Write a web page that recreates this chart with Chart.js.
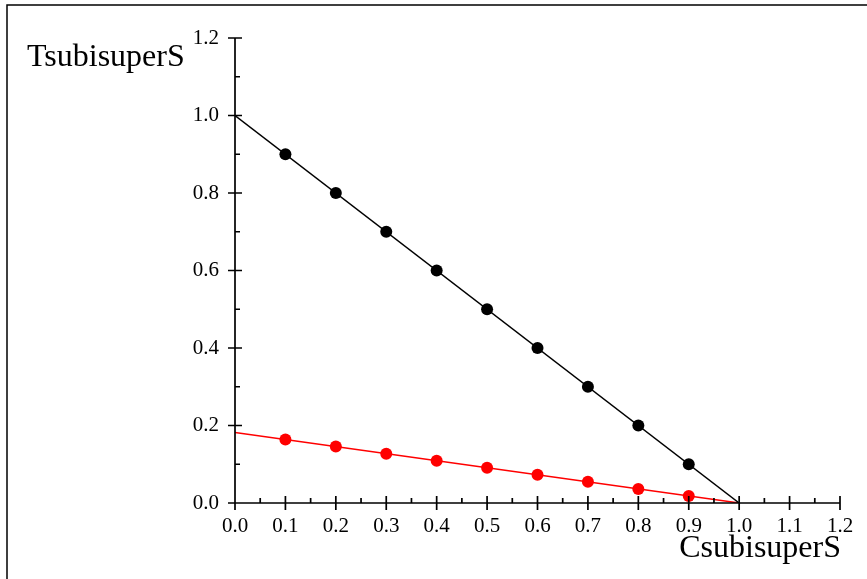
<!DOCTYPE html>
<html>
<head>
<meta charset="utf-8">
<script src="https://cdn.jsdelivr.net/npm/chart.js@4.4.0/dist/chart.umd.min.js"></script>
<style>
  html, body { margin: 0; padding: 0; background: #fff; }
  #wrap { width: 867px; height: 579px; position: relative; }
</style>
</head>
<body>
<div id="wrap"><canvas id="chart"></canvas></div>
<script>
// values
const xPoints = [0.1, 0.2, 0.3, 0.4, 0.5, 0.6, 0.7, 0.8, 0.9];
const blackPoints = [0.9, 0.8, 0.7, 0.6, 0.5, 0.4, 0.3, 0.2, 0.1];
const redPoints = [0.164, 0.146, 0.127, 0.109, 0.091, 0.073, 0.055, 0.036, 0.018];
const blackLineX = [0, 1.0];
const blackLineY = [1.0, 0];
const redLineX = [0, 1.0];
const redLineY = [0.182, 0];
const xTicks = [0, 0.1, 0.2, 0.3, 0.4, 0.5, 0.6, 0.7, 0.8, 0.9, 1.0, 1.1, 1.2];
const yTicks = [0, 0.2, 0.4, 0.6, 0.8, 1.0, 1.2];
const xTitle = 'CsubisuperS';
const yTitle = 'TsubisuperS';

const pairs = (xs, ys) => xs.map((x, i) => ({ x: x, y: ys[i] }));

// frame, tick marks and axis titles
const decor = {
    id: 'decor',
    afterDraw(chart) {
        const ctx = chart.ctx;
        const xs = chart.scales.x;
        const ys = chart.scales.y;
        const x0 = xs.getPixelForValue(0);
        const y0 = ys.getPixelForValue(0);
        ctx.save();
        ctx.strokeStyle = '#000';
        ctx.lineWidth = 1.5;
        ctx.beginPath();
        ctx.moveTo(7, 579);
        ctx.lineTo(7, 5);
        ctx.lineTo(867, 5);
        ctx.stroke();

        ctx.lineWidth = 1.7;
        ctx.beginPath();
        ctx.moveTo(x0, y0);
        ctx.lineTo(xs.getPixelForValue(1.2), y0);
        ctx.moveTo(x0, y0);
        ctx.lineTo(x0, ys.getPixelForValue(1.2));
        // x ticks
        for (let i = 0; i <= 24; i++) {
            const px = xs.getPixelForValue(i * 0.05);
            if (i % 2 === 0) {
                ctx.moveTo(px, y0 - 7);
                ctx.lineTo(px, y0 + 7);
            } else {
                ctx.moveTo(px, y0 - 5);
                ctx.lineTo(px, y0);
            }
        }
        // y ticks
        for (let i = 0; i <= 12; i++) {
            const py = ys.getPixelForValue(i * 0.1);
            if (i % 2 === 0) {
                ctx.moveTo(x0 - 7, py);
                ctx.lineTo(x0 + 7, py);
            } else {
                ctx.moveTo(x0, py);
                ctx.lineTo(x0 + 5, py);
            }
        }
        ctx.stroke();

        ctx.fillStyle = '#000';
        ctx.textBaseline = 'alphabetic';
        ctx.font = '32px "Liberation Serif", "Times New Roman", serif';
        ctx.textAlign = 'left';
        ctx.fillText(yTitle, 27, 66);
        ctx.textAlign = 'right';
        ctx.fillText(xTitle, 841, 557);
        ctx.restore();
    }
};

const tickFont = { family: '"Liberation Serif", "Times New Roman", serif', size: 21 };

new Chart(document.getElementById('chart'), {
    type: 'scatter',
    data: {
        datasets: [
            {
                type: 'line',
                data: pairs(blackLineX, blackLineY),
                borderColor: '#000',
                borderWidth: 1.5,
                pointRadius: 0,
                fill: false
            },
            {
                type: 'line',
                data: pairs(redLineX, redLineY),
                borderColor: '#ff0000',
                borderWidth: 1.5,
                pointRadius: 0,
                fill: false
            },
            {
                data: pairs(xPoints, blackPoints),
                backgroundColor: '#000',
                borderColor: '#000',
                pointRadius: 6,
                borderWidth: 0
            },
            {
                data: pairs(xPoints, redPoints),
                backgroundColor: '#ff0000',
                borderColor: '#ff0000',
                pointRadius: 6,
                borderWidth: 0
            }
        ]
    },
    options: {
        responsive: true,
        maintainAspectRatio: false,
        animation: false,
        events: [],
        layout: { padding: { left: 0, top: 38, right: 27, bottom: 0 } },
        plugins: {
            legend: { display: false },
            tooltip: { enabled: false }
        },
        scales: {
            x: {
                type: 'linear',
                min: 0,
                max: 1.2,
                afterBuildTicks: s => { s.ticks = xTicks.map(v => ({ value: v })); },
                afterFit: s => { s.height = 76; },
                grid: { display: false },
                border: { display: false },
                ticks: {
                    color: '#000',
                    font: tickFont,
                    padding: 3,
                    maxRotation: 0,
                    autoSkip: false,
                    callback: v => v.toFixed(1)
                }
            },
            y: {
                type: 'linear',
                min: 0,
                max: 1.2,
                afterBuildTicks: s => { s.ticks = yTicks.map(v => ({ value: v })); },
                afterFit: s => { s.width = 235; },
                grid: { display: false },
                border: { display: false },
                ticks: {
                    color: '#000',
                    font: tickFont,
                    padding: 8,
                    autoSkip: false,
                    callback: v => v.toFixed(1)
                }
            }
        }
    },
    plugins: [decor]
});
</script>
</body>
</html>
